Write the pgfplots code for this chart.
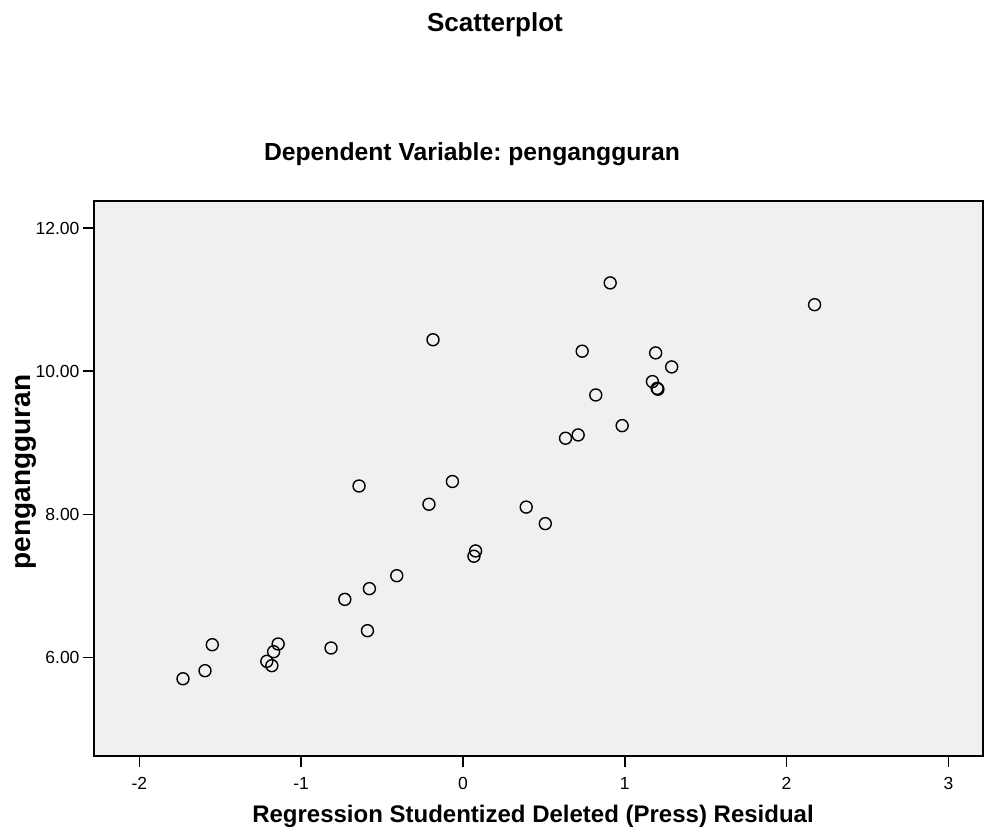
\documentclass[border=0pt]{standalone}
\usepackage{pgfplots}
\pgfplotsset{compat=1.18}
\usepackage{fontspec}
\setmainfont{Liberation Sans}
\definecolor{bg}{HTML}{F0F0F0}
\frenchspacing
\begin{document}
\begin{tikzpicture}
\path[use as bounding box] (0,0) rectangle (985pt,833pt);
\begin{axis}[at={(94pt,77pt)}, anchor=south west, width=889pt, height=555pt, scale only axis,
  xmin=-2.28, xmax=3.214, ymin=4.62, ymax=12.38,
  axis background/.style={fill=bg},
  axis line style={line width=1.6pt},
  xtick={-2,-1,0,1,2,3}, ytick={6,8,10,12},
  xtick pos=bottom, ytick pos=left, tick align=outside,
  major tick length=11pt, tick style={line width=1.5pt, black},
  y tick label style={/pgf/number format/fixed, /pgf/number format/fixed zerofill, /pgf/number format/precision=2},
  x tick label style={yshift=-7pt},
  /pgf/number format/assume math mode=true,
  tick label style={font=\fontsize{17.5}{19}\selectfont},
]
\addplot[only marks, mark=o, mark size=6pt, mark options={line width=1.4pt, black}] table {
x y
-1.730 5.700
-1.594 5.813
-1.549 6.176
-1.212 5.944
-1.181 5.883
-1.170 6.078
-1.142 6.186
-0.815 6.130
-0.730 6.810
-0.590 6.372
-0.578 6.960
-0.409 7.141
-0.642 8.395
-0.210 8.140
-0.185 10.44
-0.065 8.458
0.068 7.413
0.078 7.487
0.391 8.100
0.509 7.869
0.634 9.063
0.712 9.109
0.737 10.28
0.821 9.668
0.910 11.235
0.984 9.239
1.171 9.855
1.191 10.256
1.200 9.760
1.205 9.748
1.290 10.06
2.173 10.93
};
\end{axis}
\node[anchor=base, font=\bfseries\fontsize{26}{30}\selectfont] at (495pt,801pt) {Scatterplot};
\node[anchor=base, font=\bfseries\fontsize{24.7}{28}\selectfont] at (472pt,672pt) {Dependent Variable: pengangguran};
\node[anchor=base, font=\bfseries\fontsize{24}{28}\selectfont] at (533pt,11pt) {Regression Studentized Deleted (Press) Residual};
\node[anchor=base, rotate=90, font=\bfseries\fontsize{28}{32}\selectfont] at (30pt,361pt) {pengangguran};
\end{tikzpicture}
\end{document}
